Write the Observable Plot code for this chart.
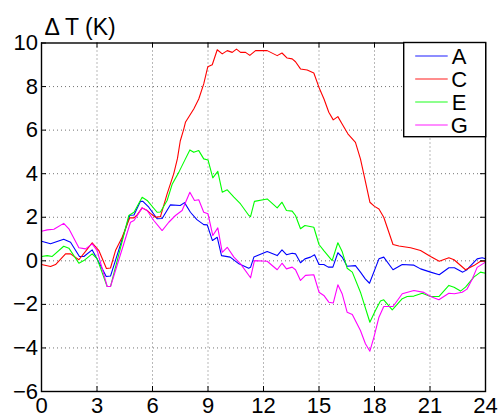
<!DOCTYPE html>
<html>
<head>
<meta charset="utf-8">
<script src="https://cdn.jsdelivr.net/npm/d3@7"></script>
<script src="https://cdn.jsdelivr.net/npm/@observablehq/plot@0.6"></script>
<style>
  html, body { margin: 0; padding: 0; background: #fff; }
  #chart { width: 499px; height: 417px; overflow: hidden; }
</style>
</head>
<body>
<div id="chart"></div>
<script>
const seriesNames = ["A", "C", "E", "G"];
const seriesColors = ["#0000ff", "#ff0000", "#00ff00", "#ff00ff"];
const xTicks = [0, 3, 6, 9, 12, 15, 18, 21, 24];
const yTicks = [-6, -4, -2, 0, 2, 4, 6, 8, 10];
const yLabel = "\u0394 T (K)";

const hoursA = [0,0.49,1.2,1.57,2.05,2.29,2.74,3.0,3.5,3.73,4.77,5.0,5.35,5.48,5.8,6.25,6.52,6.97,7.5,7.73,8.05,8.4,8.77,8.96,9.24,9.5,9.73,10.2,10.67,11.2,11.3,11.48,12.2,12.74,13.0,13.24,13.55,13.73,14.0,14.24,14.54,14.76,15.0,15.26,15.5,15.75,16.02,16.25,16.52,16.97,17.24,17.5,17.73,18.24,18.5,19.0,19.5,20.13,20.49,21.03,21.5,22.02,22.32,22.77,23.0,23.55,23.82,24];
const valuesA = [0.9,0.78,0.99,0.85,0.2,0.2,0.5,0.09,-0.72,-0.7,2.09,2.1,2.73,2.73,2.46,1.93,1.94,2.57,2.54,2.67,2.23,1.89,1.66,1.65,0.93,1.08,0.24,0.17,-0.14,-0.34,-0.3,0.17,0.43,0.24,0.5,0.28,0.35,0.32,-0.09,0.09,0.17,0.28,-0.17,-0.17,-0.29,-0.29,0.37,0.17,-0.25,-0.22,-0.52,-0.83,-1.03,0.09,0.17,-0.41,-0.17,-0.2,-0.37,-0.52,-0.64,-0.32,-0.32,-0.52,-0.41,0.09,0.14,0.09];

const hoursC = [0,0.49,0.76,1.3,1.57,2.02,2.38,2.74,3.1,3.51,3.73,4.0,4.36,4.77,5.0,5.18,5.44,5.71,5.89,6.16,6.43,6.79,7.15,7.35,7.5,7.69,7.78,8.23,8.5,8.77,8.99,9.23,9.5,9.77,10.04,10.31,10.54,10.76,11.03,11.26,11.57,12.2,12.74,13.0,13.28,13.55,13.73,14.0,14.36,14.72,15.0,15.27,15.53,15.77,16.02,16.25,16.56,16.97,17.24,17.46,17.75,18.0,18.24,18.5,19.0,19.32,19.95,20.49,21.03,21.5,22.02,22.3,22.92,23.37,23.73,24];
const valuesC = [-0.17,-0.26,-0.17,0.32,0.32,0.05,0.43,0.83,0.47,-0.35,-0.33,0.47,1.08,1.97,1.97,2.12,2.43,2.31,2.18,2.0,2.03,3.07,4.0,4.7,5.5,6.05,6.36,6.97,7.43,8.12,8.91,9.0,9.69,9.5,9.65,9.57,9.72,9.57,9.57,9.43,9.65,9.65,9.42,9.54,9.31,9.27,9.14,8.81,8.76,8.62,7.96,7.43,6.82,6.47,6.62,6.28,5.83,5.44,4.68,3.83,2.69,2.5,2.38,2.0,0.75,0.68,0.6,0.47,0.2,-0.02,0.14,0.05,-0.41,-0.22,-0.02,-0.02];

const hoursE = [0,0.31,0.58,1.2,1.48,2.02,2.29,2.74,3.01,3.55,3.73,4.72,5.0,5.44,5.71,6.25,6.43,6.79,7.07,7.42,7.78,8.02,8.23,8.5,8.77,9.0,9.26,9.53,9.77,10.04,10.4,10.76,11.21,11.3,11.51,12.2,12.74,13.0,13.24,13.55,13.73,14.0,14.24,14.72,15.0,15.26,15.71,16.02,16.25,16.52,16.8,17.24,17.75,18.05,18.32,18.5,18.96,19.5,19.77,20.13,20.58,21.03,21.48,22.02,22.3,22.65,22.92,23.37,23.73,24];
const valuesE = [0.2,0.24,0.2,0.67,0.58,-0.11,0.01,0.32,0.09,-1.18,-1.18,2.08,2.23,2.92,2.77,2.23,2.24,2.77,3.53,4.06,4.68,5.09,4.98,5.06,4.68,4.63,3.81,4.11,3.15,3.26,2.92,2.61,2.08,2.03,2.73,2.84,2.43,2.69,2.31,2.28,2.08,1.47,1.62,1.54,0.75,0.47,0.01,0.83,0.43,-0.34,-0.52,-1.44,-2.82,-2.28,-1.85,-1.79,-2.25,-1.74,-1.64,-1.62,-1.49,-1.64,-1.64,-1.13,-1.21,-1.39,-1.21,-0.75,-0.52,-0.57];

const hoursG = [0,0.31,0.67,1.2,1.48,2.02,2.38,2.74,3.01,3.55,3.73,4.81,5.0,5.44,5.71,6.07,6.52,6.88,7.24,7.6,8.02,8.27,8.5,8.77,9.0,9.26,9.53,9.77,10.04,10.4,10.76,11.3,11.51,12.2,12.74,13.0,13.24,13.55,13.73,14.0,14.27,14.72,15.0,15.26,15.53,15.77,16.02,16.25,16.52,16.8,17.24,17.51,17.75,17.97,18.24,18.5,19.0,19.5,20.13,20.67,21.03,21.48,22.02,22.32,22.74,23.0,23.28,23.55,24];
const valuesG = [1.36,1.42,1.45,1.72,1.47,0.6,0.55,0.78,0.47,-1.18,-1.18,1.77,1.85,2.43,2.31,1.85,1.39,1.77,2.08,2.31,3.15,2.77,2.8,2.23,2.16,1.16,1.51,0.39,0.62,0.17,-0.14,-0.78,0.01,-0.02,-0.41,-0.11,-0.37,-0.29,-0.41,-0.9,-0.67,-0.64,-1.44,-1.59,-1.9,-1.94,-1.1,-1.51,-2.36,-2.46,-3.2,-3.81,-4.15,-3.5,-2.59,-2.1,-2.1,-1.51,-1.36,-1.45,-1.64,-1.79,-1.49,-1.51,-1.44,-1.3,-0.85,-0.3,-0.06];

const hoursList = [hoursA, hoursC, hoursE, hoursG];
const valuesList = [valuesA, valuesC, valuesE, valuesG];
const rows = [];
seriesNames.forEach((name, i) => {
  hoursList[i].forEach((h, j) => rows.push({series: name, hour: h, value: valuesList[i][j]}));
});

const W = 499, H = 417, mL = 41, mR = 14, mT = 42.5, mB = 26;
const frameW = W - mL - mR, frameH = H - mT - mB;
const tickLen = 5;
const font = "'Liberation Sans', Arial, Helvetica, sans-serif";

const gridStyle = {stroke: "#000", strokeOpacity: 0.55, strokeDasharray: "1,3"};

const plot = Plot.plot({
  width: W, height: H,
  marginLeft: mL, marginRight: mR, marginTop: mT, marginBottom: mB,
  style: {fontFamily: font, fontSize: "22px", background: "#fff", color: "#000", overflow: "visible"},
  x: {domain: [0, 24]},
  y: {domain: [-6, 10]},
  color: {domain: seriesNames, range: seriesColors},
  marks: [
    Plot.gridX(xTicks.slice(1, -1), gridStyle),
    Plot.gridY(yTicks.slice(1, -1), gridStyle),
    Plot.line(rows, {x: "hour", y: "value", z: "series", stroke: "series", strokeWidth: 1.1}),
    Plot.ruleX(xTicks, {insetTop: frameH - tickLen, stroke: "#000", strokeWidth: 1}),
    Plot.ruleX(xTicks, {insetBottom: frameH - tickLen, stroke: "#000", strokeWidth: 1}),
    Plot.ruleY(yTicks, {insetRight: frameW - tickLen, stroke: "#000", strokeWidth: 1}),
    Plot.ruleY(yTicks, {insetLeft: frameW - tickLen, stroke: "#000", strokeWidth: 1}),
    Plot.frame({stroke: "#000", strokeWidth: 1.4}),
    Plot.axisX(xTicks, {tickSize: 0, tickPadding: 6, label: null, fontSize: 22}),
    Plot.axisY(yTicks, {tickSize: 0, tickPadding: 3.5, label: null, fontSize: 22}),
    Plot.text([yLabel], {frameAnchor: "top-left", dx: 3, dy: -8, textAnchor: "start", lineAnchor: "bottom", fontSize: 23})
  ]
});

document.getElementById("chart").appendChild(plot);

// Legend box (inside plot area, top-right)
const svg = d3.select(plot);
const lx = 403.7, ly = mT, lw = W - mR - lx + 0.7, lh = 94.2;
const lg = svg.append("g").attr("font-family", font).attr("font-size", 22);
lg.append("rect").attr("x", lx).attr("y", ly).attr("width", lw).attr("height", lh)
  .attr("fill", "#fff").attr("stroke", "#000").attr("stroke-width", 1.4);
seriesNames.forEach((name, i) => {
  const cy = 56 + i * 23;
  lg.append("line").attr("x1", lx + 11.5).attr("x2", lx + 44).attr("y1", cy).attr("y2", cy)
    .attr("stroke", seriesColors[i]).attr("stroke-width", 1.6).attr("stroke-opacity", 0.6);
  lg.append("text").attr("x", lx + 55.5).attr("y", cy).attr("dy", "0.36em").text(name);
});
</script>
</body>
</html>
